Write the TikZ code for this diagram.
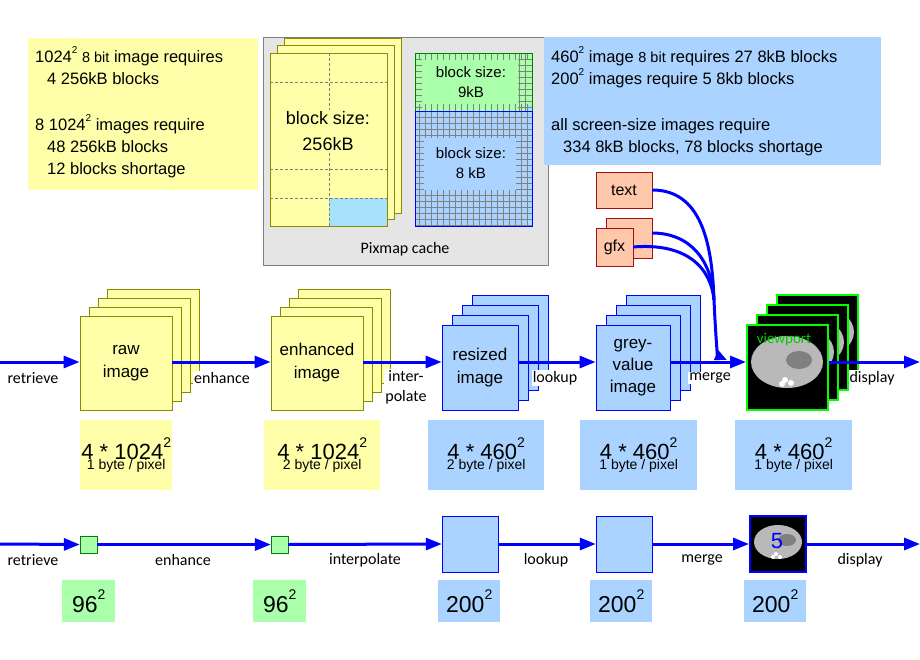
\documentclass[tikz,border=0pt]{standalone}
\usepackage{fontspec}
\setmainfont{Liberation Sans}
\newfontfamily\lab{Carlito}
\usetikzlibrary{arrows.meta}
\definecolor{yel}{HTML}{FFFFAA}
\definecolor{yelB}{HTML}{8B8B00}
\definecolor{blu}{HTML}{AAD4FF}
\definecolor{bluB}{HTML}{0000FF}
\definecolor{grn}{HTML}{AAFFAA}
\definecolor{sal}{HTML}{FFC8AA}
\definecolor{salB}{HTML}{A01010}
\newcommand{\mysq}[1]{\raisebox{0.55em}{\fontsize{#1}{#1}\selectfont 2}}
\begin{document}
\begin{tikzpicture}[x=1pt,y=-1pt,
 ysheet/.style={fill=yel,draw=yelB,line width=0.8pt},
 bsheet/.style={fill=blu,draw=bluB,line width=0.8pt},
 vsheet/.style={fill=black,draw=green,line width=2pt},
 info/.style={fill=yel,draw=none},
 binfo/.style={fill=blu,draw=none},
 flow/.style={draw=bluB,line width=3pt,-{Triangle[length=16pt,width=12pt]}},
 lbl/.style={font=\lab\fontsize{16}{18}\selectfont,inner sep=0pt},
 grid/.style={gray,densely dashed,line width=0.5pt}]
\useasboundingbox (0,0) rectangle (920,660);
\fill[white] (0,0) rectangle (920,660);
% top left info
\node[info,minimum width=230,minimum height=152,anchor=north west] (t1) at (28,38) {};
\node[anchor=north west,align=left,inner sep=0pt,font=\fontsize{16.5}{22}\selectfont] (t1t) at (35,46)
 {1024\mysq{10} {\fontsize{14.5}{14}\selectfont 8 bit} image requires\\ \hspace*{12pt}4 256kB blocks\\[24pt] 8 1024\mysq{10} images require\\ \hspace*{12pt}48 256kB blocks\\ \hspace*{12pt}12 blocks shortage};
% pixmap cache
\node[fill=gray!20,draw=gray,minimum width=285,minimum height=228,anchor=north west] (pc) at (263,37) {};
\node[lbl] (pcl) at (405,249) {Pixmap cache};
\draw[ysheet] (284,38) rectangle (401,213);
\draw[ysheet] (277,45) rectangle (394,219);
\draw[ysheet] (270,53) rectangle (387,226);
\fill[cyan!35] (329,198) rectangle (387,226);
\draw[grid] (329,53)--(329,226) (270,82)--(387,82) (270,169)--(387,169) (270,198)--(387,198);
\draw[yelB,line width=0.8pt] (270,53) rectangle (387,226);
\node[fill=yel,inner sep=1pt,font=\fontsize{18}{26}\selectfont,align=center] (bs1) at (328,131) {block size:\\256kB};
\fill[grn] (415,53) rectangle (532,111);
\fill[blu] (415,111) rectangle (532,226);
\fill[cyan!35] (526,105) rectangle (532,111) (526,220) rectangle (532,226);
\foreach \x in {419,425,...,531} \draw[gray,line width=0.3pt] (\x,111)--(\x,226);
\foreach \y in {117,123,...,225} \draw[gray,line width=0.3pt] (415,\y)--(532,\y);
\foreach \x in {419,425,...,531} {\draw[gray,line width=0.3pt] (\x,53)--(\x,60) (\x,104)--(\x,111);}
\foreach \y in {59,65,...,110} {\draw[gray,line width=0.3pt] (415,\y)--(422,\y) (518,\y)--(532,\y);}
\foreach \x in {519,525} \draw[gray,line width=0.3pt] (\x,53)--(\x,111);
\fill[grn] (424,62) rectangle (516,102);
\fill[blu] (424,138) rectangle (516,190);
\draw[green!50!black,line width=0.8pt] (415,53) rectangle (532,111);
\draw[bluB,line width=0.8pt] (415,111) rectangle (532,226);
\node[font=\fontsize{15}{20}\selectfont,align=center] (bs2) at (471,82) {block size:\\9kB};
\node[font=\fontsize{15}{20}\selectfont,align=center] (bs3) at (471,163) {block size:\\8 kB};
% top right info
\node[binfo,minimum width=337,minimum height=128,anchor=north west] (t2) at (544,37) {};
\node[anchor=north west,align=left,inner sep=0pt,font=\fontsize{16.5}{22}\selectfont] (t2t) at (551,46)
 {460\mysq{10} image {\fontsize{14.5}{14}\selectfont 8 bit} requires 27 8kB blocks\\ 200\mysq{10} images require 5 8kb blocks\\[24pt] all screen-size images require\\ \hspace*{12pt}334 8kB blocks, 78 blocks shortage};
% text / gfx
\node[fill=sal,draw=salB,minimum width=56,minimum height=36,font=\fontsize{16}{18}\selectfont] (txt) at (624,190) {text};
\node[fill=sal,draw=salB,minimum width=46,minimum height=40] (gfxb) at (629,238) {};
\node[fill=sal,draw=salB,minimum width=37,minimum height=38,inner sep=0pt,font=\fontsize{16}{18}\selectfont] (gfx) at (614.5,247) {gfx};
% pipeline stacks
\foreach \d in {27,18,9} \draw[ysheet] (80+\d,316-\d) rectangle (172+\d,410-\d);
\node[ysheet,minimum width=92,minimum height=94,font=\fontsize{17}{23}\selectfont,align=center] (raw) at (126,363) {raw\\image};
\foreach \d in {27,18,9} \draw[ysheet] (271+\d,316-\d) rectangle (363+\d,410-\d);
\node[ysheet,minimum width=92,minimum height=94,inner sep=0pt,font=\fontsize{17}{23}\selectfont,align=center] (enh) at (317,363) {enhanced\\image};
\foreach \d in {30,20,10} \draw[bsheet] (442+\d,325-\d) rectangle (518+\d,410-\d);
\node[bsheet,minimum width=76,minimum height=85,inner sep=0pt,font=\fontsize{17}{23}\selectfont,align=center] (res) at (480,367.5) {resized\\image};
\foreach \d in {30,20,10} \draw[bsheet] (596+\d,325-\d) rectangle (670+\d,410-\d);
\node[bsheet,minimum width=74,minimum height=85,inner sep=0pt,font=\fontsize{17}{22}\selectfont,align=center] (grey) at (633,367.5) {grey-\\value\\image};
\foreach \d in {30,20,10} {
 \draw[vsheet] (747+\d,325-\d) rectangle (828+\d,410-\d);
 \begin{scope}
 \clip (747+\d,325-\d) rectangle (828+\d,410-\d);
 \fill[gray!55] (788+\d,362-\d) ellipse (36 and 26);
 \end{scope}
}
\node[vsheet,minimum width=81,minimum height=85] (vp) at (787.5,367.5) {};
\fill[gray!55] (787,362) ellipse (36 and 26);
\fill[gray] (799,360) ellipse (13 and 9);
\fill[white] (785,380) circle (3) (791,383) circle (3) (782,384) circle (3);
\node[text=green!80!black,font=\lab\fontsize{15}{16}\selectfont] (vpl) at (784,340) {viewport};
% flow arrows
\coordinate (s0) at (0,362);
\coordinate (e5) at (920,362);
\draw[flow] (s0) -- (raw.west|-s0);
\draw[flow] (raw.east|-s0) -- (enh.west|-s0);
\draw[flow] (enh.east|-s0) -- (res.west|-s0);
\draw[flow] (res.east|-s0) -- (grey.west|-s0);
\draw[flow] (grey.east|-s0) -- (vp.west|-s0);
\draw[flow] (vp.east|-s0) -- (e5);
\coordinate (m) at (727,360);
\coordinate (jn) at (714,300);
\coordinate (gb) at (652,233);
\draw[bluB,line width=3pt,-{Triangle[length=12pt,width=10pt]}] (txt.east) .. controls (700,190) and (712,240) .. (jn) .. controls (716,345) and (718,356) .. (m);
\draw[bluB,line width=3pt] (gb) .. controls (690,233) and (712,260) .. (jn);
\draw[bluB,line width=3pt] (gfx.east) .. controls (680,243) and (710,262) .. (jn);
\foreach \t/\x in {retrieve/33,enhance/222,lookup/555,merge/710,display/872}
 \node[lbl,fill=white,inner sep=1pt] at (\x,378) {\t};
\node[lbl,align=center,fill=white,inner sep=1pt,font=\lab\fontsize{16}{20}\selectfont] (interp) at (406,387) {inter-\\polate};
% info boxes row 1
\foreach \n/\x/\w/\c/\a/\b in {i1/80/92/yel/1024/1, i2/264/116/yel/1024/2, i3/428/116/blu/460/2, i4/580/117/blu/460/1, i5/735/117/blu/460/1}
 \node[fill=\c,minimum width=\w,minimum height=70,anchor=north west,align=center,inner sep=0pt] (\n) at (\x,420)
 {{\fontsize{22}{26}\selectfont 4 * \a\mysq{14}}\\[-2pt]{\fontsize{14}{16}\selectfont \b\ byte / pixel}};
% bottom row
\node[fill=grn,draw=green!50!black,minimum size=17,inner sep=0pt] (g1) at (88.5,544.5) {};
\node[fill=grn,draw=green!50!black,minimum size=17,inner sep=0pt] (g2) at (279.5,544.5) {};
\node[fill=blu,draw=bluB,minimum size=56,inner sep=0pt] (b3) at (470,544) {};
\node[fill=blu,draw=bluB,minimum size=56,inner sep=0pt] (b4) at (624,544) {};
\node[fill=black,draw=bluB,line width=2pt,minimum size=56,inner sep=0pt] (b5) at (778,544) {};
\fill[gray!55] (778,542) ellipse (24 and 17);
\fill[gray] (787,540) ellipse (9 and 6);
\fill[white] (776,554) circle (2) (780,557) circle (2) (773,557) circle (2);
\node[text=bluB,font=\fontsize{22}{24}\selectfont] (five) at (777,541) {5};
\coordinate (s1) at (0,544);
\coordinate (e6) at (920,544);
\draw[flow] (s1) -- (g1.west);
\draw[flow] (g1.east) -- (g2.west);
\draw[flow] (g2.east) -- (b3.west);
\draw[flow] (b3.east) -- (b4.west);
\draw[flow] (b4.east) -- (b5.west);
\draw[flow] (b5.east) -- (e6);
\foreach \t/\x in {retrieve/33,enhance/183,interpolate/365,lookup/546,merge/702,display/860}
 \node[lbl] at (\x,560) {\t};
\foreach \n/\x/\w/\c/\a in {j1/62/53/grn/96, j2/253/53/grn/96, j3/438/62/blu/200, j4/590/62/blu/200, j5/744/62/blu/200}
 \node[fill=\c,minimum width=\w,minimum height=42,anchor=north west,inner sep=0pt,font=\fontsize{23}{26}\selectfont] (\n) at (\x,580) {\a\mysq{14}};
\end{tikzpicture}
\end{document}
